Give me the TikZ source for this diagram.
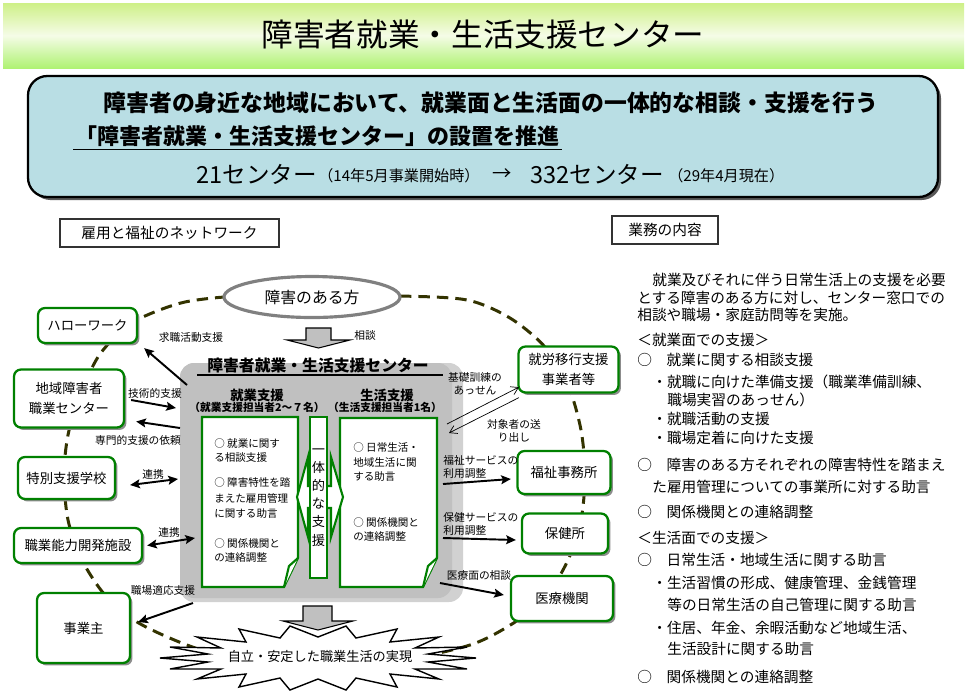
\documentclass[tikz,border=0pt]{standalone}
\usepackage{fontspec}
\setmainfont{Noto Sans CJK JP}
\usetikzlibrary{arrows.meta,shapes.geometric,shadows}
\definecolor{verde}{RGB}{0,128,0}
\definecolor{oliva}{RGB}{51,51,0}
\definecolor{celeste}{RGB}{185,222,228}
\definecolor{gris}{RGB}{192,192,192}
\definecolor{lima}{RGB}{206,240,135}
\begin{document}
\begin{tikzpicture}[x=0.02cm,y=-0.02cm,
    org/.style={draw=verde, line width=1.3pt, fill=white, rounded corners=4pt,
      align=center, inner sep=1pt, font=\fontsize{7.6}{11}\selectfont,
      drop shadow={shadow xshift=1.4pt, shadow yshift=-1.4pt, fill=black!45, opacity=1}},
    etiq/.style={font=\fontsize{6.1}{7.4}\selectfont, inner sep=0pt, align=center},
    nota/.style={draw=verde, line width=1.2pt, fill=white},
    txt/.style={font=\fontsize{6}{7}\selectfont, anchor=west, inner sep=0pt},
    der/.style={font=\fontsize{8.35}{10}\selectfont, anchor=west, inner sep=0pt},
    flecha/.style={-{Stealth[length=5.5pt,width=5pt,inset=1pt]}, line width=1.1pt},
    doble/.style={{Stealth[length=5.5pt,width=5pt,inset=1pt]}-{Stealth[length=5.5pt,width=5pt,inset=1pt]}, line width=1.1pt},
    fina/.style={-{Straight Barb[length=4pt,width=5pt]}, line width=0.4pt},
    bloque/.style={draw=black, line width=0.6pt, fill=gris}]
  \useasboundingbox (0,0) rectangle (967,691);
  % Encabezado
  \shade[top color=lima, bottom color=lima!85!green, middle color=lima!20] (3,3) rectangle (964,68);
  \node (titulo) at (483,35) {\fontsize{18}{20}\selectfont 障害者就業・生活支援センター};
  % Recuadro azul
  \fill[black!65, rounded corners=11pt] (31,79) rectangle (941,200); % sombra
  \draw[fill=celeste, line width=1.3pt, rounded corners=11pt] (28,76) rectangle (938,197);
  \node[font=\bfseries\fontsize{13}{15}\selectfont] (lema) at (491,103) {障害者の身近な地域において、就業面と生活面の一体的な相談・支援を行う};
  \node[anchor=west, inner sep=1.5pt, font=\bfseries\fontsize{12.5}{15}\selectfont] (promo) at (73,136) {「障害者就業・生活支援センター」の設置を推進};
  \draw[line width=1pt] (promo.south west) -- (promo.south east);
  \node[anchor=west, inner sep=0pt, font=\fontsize{13.4}{15}\selectfont] (n21) at (196,174) {21センター};
  \node[anchor=west, inner sep=0pt, font=\fontsize{8.6}{10}\selectfont] (n14) at (318,176) {（14年5月事業開始時）};
  \node[inner sep=0pt, font=\fontsize{11}{12}\selectfont] (flechita) at (502,175) {→};
  \node[anchor=west, inner sep=0pt, font=\fontsize{13.4}{15}\selectfont] (n332) at (530,174) {332センター};
  \node[anchor=west, inner sep=0pt, font=\fontsize{8.6}{10}\selectfont] (n29) at (668,176) {（29年4月現在）};
  % Rotulos
  \node[draw=black!80, line width=0.6pt, minimum width=4.38cm, minimum height=0.56cm, font=\fontsize{8.35}{10}\selectfont] (cabred) at (169.5,233) {雇用と福祉のネットワーク};
  \node[draw=black!80, line width=0.6pt, minimum width=2.12cm, minimum height=0.56cm, font=\fontsize{8.35}{10}\selectfont] (cabser) at (665,230) {業務の内容};
  % Red (linea discontinua)
  \draw[oliva, line width=1.7pt, dash pattern=on 6.5pt off 4pt] plot[smooth cycle] coordinates {
    (318,296) (400,296) (467,300) (510,318) (545,347) (568,385) (581,430) (585,475)
    (581,520) (568,560) (545,598) (512,624) (470,645) (400,660) (318,664) (240,660)
    (187,645) (137,622) (105,595) (82,560) (68,520) (64,475) (68,435) (80,395)
    (98,357) (122,330) (145,316) (185,302) (240,296)};
  \node[ellipse, draw=black!50, line width=1.8pt, fill=white, minimum width=3.52cm, minimum height=0.82cm, font=\fontsize{9}{11}\selectfont] (persona) at (312,297) {障害のある方};
  % Organismos
  \node[org, minimum width=1.98cm, minimum height=0.70cm] (hw) at (87.5,325.5) {ハローワーク};
  \node[org, minimum width=2.20cm, minimum height=1.16cm] (chiiki) at (69,398.5) {地域障害者\\職業センター};
  \node[org, minimum width=1.94cm, minimum height=0.84cm] (tokubetsu) at (66.5,478) {特別支援学校};
  \node[org, minimum width=2.56cm, minimum height=0.70cm] (shokunou) at (78,545.5) {職業能力開発施設};
  \node[org, minimum width=1.86cm, minimum height=1.40cm] (jigyo) at (83.5,628) {事業主};
  \node[org, minimum width=2.00cm, minimum height=0.92cm] (shuro) at (568.5,369.5) {就労移行支援\\事業者等};
  \node[org, minimum width=1.86cm, minimum height=0.86cm] (fukushi) at (564,472.5) {福祉事務所};
  \node[org, minimum width=1.72cm, minimum height=0.80cm] (hoken) at (565,533.5) {保健所};
  \node[org, minimum width=2.04cm, minimum height=0.90cm] (iryo) at (562,598.5) {医療機関};
  % Centro
  \fill[black!18, rounded corners=8pt] (180,363) rectangle (463,602);
  \fill[gris, rounded corners=8pt] (180,363) rectangle (452,598);
  \draw[bloque] (306,328) -- (331,328) -- (331,340) -- (350,340) -- (318.5,348) -- (287,340) -- (306,340) -- cycle;
  \node[etiq, anchor=west] (consulta) at (354,335) {相談};
  \node[font=\bfseries\fontsize{9}{11}\selectfont] (centro) at (318,365) {障害者就業・生活支援センター};
  \draw[line width=0.9pt] (197,375) -- (443,375);
  \node[font=\bfseries\fontsize{7.6}{9}\selectfont, inner sep=0pt] (shugyo) at (257,395) {就業支援};
  \node[font=\bfseries\fontsize{6.1}{7}\selectfont, inner sep=0pt] (shugyo2) at (257,407) {（就業支援担当者2～７名）};
  \node[font=\bfseries\fontsize{7.6}{9}\selectfont, inner sep=0pt] (seikatsu) at (387,395) {生活支援};
  \node[font=\bfseries\fontsize{6.1}{7}\selectfont, inner sep=0pt] (seikatsu2) at (385,407) {（生活支援担当者1名）};
  % Hojas
  \draw[nota] (202,417) -- (298,417) -- (298,558) -- (284,587) -- (202,587) -- cycle;
  \draw[nota] (298,558) -- (289,566) -- (284,587);
  \draw[nota] (340,418) -- (437,418) -- (437,558) -- (423,587) -- (340,587) -- cycle;
  \draw[nota] (437,558) -- (428,566) -- (423,587);
  \node[txt] (a1) at (214,443) {○ 就業に関す};
  \node[txt] (a2) at (214,457) {る相談支援};
  \node[txt] (a3) at (214,482) {○ 障害特性を踏};
  \node[txt] (a4) at (214,498) {まえた雇用管理};
  \node[txt] (a5) at (214,513) {に関する助言};
  \node[txt] (a6) at (214,543) {○ 関係機関と};
  \node[txt] (a7) at (214,558) {の連絡調整};
  \node[txt] (b1) at (353,447) {○ 日常生活・};
  \node[txt] (b2) at (353,462) {地域生活に関};
  \node[txt] (b3) at (353,476) {する助言};
  \node[txt] (b4) at (353,522) {○ 関係機関と};
  \node[txt] (b5) at (353,537) {の連絡調整};
  % Flecha doble hueca y caja vertical
  \draw[nota] (297,497) -- (308,457) -- (308,486) -- (331,486) -- (331,457) -- (343,497)
    -- (331,537) -- (331,508) -- (308,508) -- (308,537) -- cycle;
  \node[draw=verde, line width=1.2pt, fill=white, minimum width=0.34cm, minimum height=3.22cm, inner sep=0pt, align=center, font=\fontsize{7.5}{10.3}\selectfont] (integral) at (318.5,497.5) {一\\体\\的\\な\\支\\援};
  % Puntos de salida
  \coordinate (ga) at (187,385);
  \coordinate (gb) at (176,408);
  \coordinate (gc) at (180,428);
  \coordinate (gd) at (178,479);
  \coordinate (ge) at (195,538);
  \coordinate (gf) at (193,603);
  \coordinate (gg) at (447,424);
  \coordinate (gh) at (449,433);
  \coordinate (gi) at (443,484);
  \coordinate (gj) at (443,538);
  \coordinate (gk) at (440,583);
  % Flechas
  \draw[flecha] (ga) -- ([shift={(6,4)}]hw.south east);
  \draw[flecha] ([shift={(6,1.5)}]chiiki.east) -- (gb);
  \draw[flecha] (gc) -- ([shift={(11,23)}]chiiki.east);
  \draw[doble] ([shift={(14,7)}]tokubetsu.east) -- (gd);
  \draw[doble] ([shift={(4,0)}]shokunou.east) -- (ge);
  \draw[flecha] (gf) -- ([shift={(7,-6)}]jigyo.east);
  \draw[fina] (gg) -- ([shift={(1.5,-6.5)}]shuro.south west);
  \draw[fina] ([shift={(1.5,4)}]shuro.south west) -- (gh);
  \draw[flecha] (gi) -- ([shift={(-5.5,6.5)}]fukushi.west);
  \draw[flecha] (gj) -- ([shift={(-5,6.5)}]hoken.west);
  \draw[flecha] (gk) -- ([shift={(-6,-3.5)}]iryo.west);
  \node[etiq] (l1) at (191,337) {求職活動支援};
  \node[etiq] (l2) at (155,393) {技術的支援};
  \node[etiq] (l3) at (138,440) {専門的支援の依頼};
  \node[etiq] (l4) at (153,474) {連携};
  \node[etiq] (l5) at (169,532) {連携};
  \node[etiq] (l6) at (163,590) {職場適応支援};
  \node[etiq] (l7) at (475,384) {基礎訓練の\\あっせん};
  \node[etiq] (l8) at (514,431) {対象者の送\\り出し};
  \node[etiq, anchor=west, align=left] (l9) at (443,466.5) {福祉サービスの\\利用調整};
  \node[etiq, anchor=west, align=left] (l10) at (443,524) {保健サービスの\\利用調整};
  \node[etiq] (l11) at (479,575) {医療面の相談};
  % Resultado
  \draw[bloque] (303,606) -- (332,606) -- (332,621) -- (353,621) -- (318,630) -- (283,621) -- (303,621) -- cycle;
  \draw[fill=white, line width=0.8pt] (476,658) -- (428,662) -- (467,669) -- (415,669) -- (439,679) -- (390,674)
    -- (397,687) -- (356,678) -- (346,690) -- (318,679) -- (290,690) -- (280,678) -- (239,687) -- (246,674)
    -- (197,679) -- (221,669) -- (170,669) -- (208,662) -- (160,658) -- (208,654) -- (170,647) -- (221,648)
    -- (197,637) -- (246,642) -- (239,629) -- (280,638) -- (290,626) -- (318,637) -- (346,626) -- (356,638)
    -- (397,629) -- (390,642) -- (439,637) -- (415,648) -- (467,647) -- (428,654) -- cycle;
  \node[font=\fontsize{7.5}{9}\selectfont] (meta) at (320,657) {自立・安定した職業生活の実現};
  % Contenido de servicios
  \node[der] (d1) at (652,280) {就業及びそれに伴う日常生活上の支援を必要};
  \node[der] (d2) at (637,298) {とする障害のある方に対し、センター窓口での};
  \node[der] (d3) at (637,315) {相談や職場・家庭訪問等を実施。};
  \node[der] (d4) at (637,340) {＜就業面での支援＞};
  \node[der] (d5) at (637,360) {○　就業に関する相談支援};
  \node[der] (d6) at (652,382) {・就職に向けた準備支援（職業準備訓練、};
  \node[der] (d7) at (667,400) {職場実習のあっせん）};
  \node[der] (d8) at (652,419) {・就職活動の支援};
  \node[der] (d9) at (652,438) {・職場定着に向けた支援};
  \node[der] (d10) at (637,465) {○　障害のある方それぞれの障害特性を踏まえ};
  \node[der] (d11) at (652,487) {た雇用管理についての事業所に対する助言};
  \node[der] (d12) at (637,512) {○　関係機関との連絡調整};
  \node[der] (d13) at (637,538) {＜生活面での支援＞};
  \node[der] (d14) at (637,560) {○　日常生活・地域生活に関する助言};
  \node[der] (d15) at (652,583) {・生活習慣の形成、健康管理、金銭管理};
  \node[der] (d16) at (667,605) {等の日常生活の自己管理に関する助言};
  \node[der] (d17) at (652,628) {・住居、年金、余暇活動など地域生活、};
  \node[der] (d18) at (667,649) {生活設計に関する助言};
  \node[der] (d19) at (637,677) {○　関係機関との連絡調整};
\end{tikzpicture}
\end{document}
